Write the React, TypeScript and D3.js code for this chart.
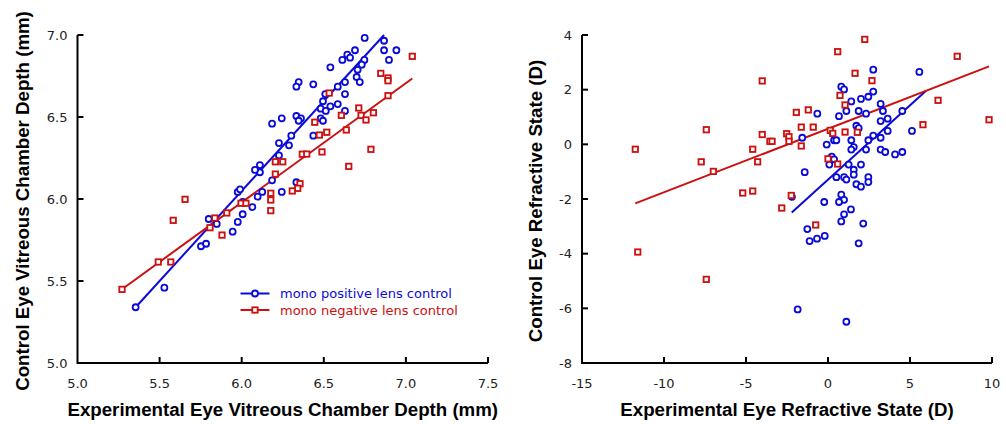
import React from "react";
import * as d3 from "d3";

// ---- Left panel: vitreous chamber depth (mm) ----
const vcdPosX = [6.749,6.867,6.867,6.942,6.897,6.690,6.643,6.660,6.613,6.747,6.731,6.706,6.540,6.700,6.719,6.629,6.585,6.347,6.333,6.436,6.509,6.629,6.495,6.481,6.512,6.540,6.585,6.629,6.333,6.361,6.347,6.244,6.185,6.481,6.495,6.302,6.436,6.227,6.288,6.227,6.111,6.111,6.081,6.185,6.333,6.125,6.244,5.976,5.990,6.097,5.354,5.529,5.752,5.783,5.799,5.848,5.945,5.976,6.006,6.006,6.065];
const vcdPosY = [6.982,6.965,6.907,6.907,6.848,6.907,6.880,6.862,6.848,6.848,6.819,6.788,6.803,6.744,6.713,6.713,6.685,6.713,6.685,6.699,6.640,6.640,6.596,6.551,6.537,6.565,6.579,6.537,6.506,6.492,6.477,6.492,6.459,6.492,6.477,6.386,6.386,6.341,6.327,6.266,6.207,6.163,6.177,6.114,6.102,6.043,6.043,6.043,6.059,6.014,5.340,5.459,5.712,5.727,5.878,5.848,5.801,5.860,5.907,5.982,5.951];
const vcdNegX = [7.039,6.847,6.891,6.891,6.891,6.533,6.713,6.607,6.727,6.757,6.802,6.445,6.637,6.518,6.473,6.369,6.489,6.787,6.652,6.205,6.250,6.205,6.355,6.341,6.308,6.177,6.177,6.177,5.655,5.271,5.492,5.568,5.583,5.807,5.836,5.880,5.909,5.996,6.026,6.396];
const vcdNegY = [6.870,6.766,6.738,6.721,6.630,6.646,6.555,6.510,6.510,6.482,6.526,6.468,6.421,6.407,6.390,6.273,6.287,6.303,6.199,6.227,6.227,6.152,6.093,6.065,6.049,6.035,5.994,5.929,5.998,5.449,5.616,5.616,5.870,5.825,5.884,5.780,5.915,5.974,5.974,6.274];
const vcdPosFit = [[5.354, 5.34], [6.867, 7.0]];
const vcdNegFit = [[5.271, 5.45], [7.039, 6.735]];
const vcdXTicks = [5.0, 5.5, 6.0, 6.5, 7.0, 7.5];
const vcdYTicks = [5.0, 5.5, 6.0, 6.5, 7.0];

// ---- Right panel: refractive state (D) ----
const rsPosX = [2.76,5.57,0.81,0.98,1.42,2.01,2.46,2.76,3.21,3.35,1.87,2.32,1.12,0.67,-0.65,3.64,3.21,4.53,3.64,5.12,1.73,1.87,2.76,3.21,2.46,1.42,-1.57,0.37,0.51,-0.08,1.57,1.42,2.32,3.21,3.49,4.09,4.53,0.23,0.37,0.08,1.26,1.57,1.57,2.01,0.51,0.98,1.12,2.46,2.46,1.73,2.01,-1.42,-2.20,-0.23,0.81,0.98,0.67,1.40,0.98,0.81,2.15,-1.26,-1.12,-0.67,-0.20,1.87,-1.85,1.12];
const rsPosY = [2.73,2.65,2.11,2.01,1.57,1.66,1.74,1.93,1.48,1.22,1.22,1.12,1.22,1.03,1.12,0.94,0.85,1.22,0.49,0.49,0.68,0.59,0.32,0.24,0.15,0.15,0.24,0.15,0.15,-0.01,-0.10,-0.19,-0.19,-0.19,-0.28,-0.37,-0.28,-0.45,-0.55,-0.74,-0.74,-0.93,-1.11,-0.74,-1.20,-1.20,-1.29,-1.20,-1.38,-1.46,-1.55,-1.02,-1.92,-2.11,-1.84,-2.03,-2.11,-2.38,-2.56,-2.82,-2.90,-3.10,-3.54,-3.45,-3.35,-3.62,-6.04,-6.49];
const rsNegX = [-11.75,-7.42,-7.73,-6.99,-4.01,-4.01,-4.59,-4.29,-5.20,-4.59,-3.54,-11.60,-7.42,2.24,0.59,1.65,2.68,0.73,1.04,7.88,6.71,9.82,5.79,-1.93,-1.20,-1.63,-0.90,-3.41,-2.52,-2.38,-2.38,-1.63,0.14,0.29,1.04,1.79,0.00,0.59,-2.24,-2.82,-0.75];
const rsNegY = [-0.18,0.535,-0.64,-0.99,2.32,0.36,-0.18,-0.64,-1.78,-1.71,0.11,-3.94,-4.94,3.84,3.39,2.60,2.33,1.79,1.44,3.22,1.61,0.90,0.72,1.17,1.26,0.63,0.63,0.11,0.39,0.28,0.11,-0.06,0.51,0.40,0.45,0.44,-0.53,-0.72,-1.87,-2.33,-2.95];
const rsPosFit = [[-2.21, -2.49], [5.98, 1.96]];
const rsNegFit = [[-11.75, -2.16], [9.82, 2.85]];
const rsXTicks = [-15, -10, -5, 0, 5, 10];
const rsYTicks = [-8, -6, -4, -2, 0, 2, 4];

const legendLabels = ["mono positive lens control", "mono negative lens control"];

const BLUE = "#0a0ad8";
const RED = "#cc0f0f";
const TICK_FONT = "DejaVu Sans, Verdana, sans-serif";
const TITLE_FONT = "Liberation Sans, Arial, sans-serif";

type Sc = d3.ScaleLinear<number, number>;

function Circle({ x, y }: { x: number; y: number }) {
  return <circle cx={x} cy={y} r={3} fill="white" stroke={BLUE} strokeWidth={1.8} />;
}
function Square({ x, y }: { x: number; y: number }) {
  return <rect x={x - 2.7} y={y - 2.7} width={5.4} height={5.4} fill="white" stroke={RED} strokeWidth={1.8} />;
}

function Panel({
  xs, ys, xTicks, yTicks, fmt, posX, posY, negX, negY, posFit, negFit, xTitle, yTitle, yTitleX,
}: {
  xs: Sc; ys: Sc; xTicks: number[]; yTicks: number[]; fmt: (v: number) => string;
  posX: number[]; posY: number[]; negX: number[]; negY: number[];
  posFit: number[][]; negFit: number[][]; xTitle: string; yTitle: string; yTitleX: number;
}) {
  const [x0, x1] = xs.range();
  const [y0, y1] = ys.range(); // y0 bottom
  const line = d3.line<number[]>().x((d) => xs(d[0])).y((d) => ys(d[1]));
  const cy = (y0 + y1) / 2 + 2;
  return (
    <g>
      <path d={line(posFit) || ""} stroke={BLUE} strokeWidth={2} fill="none" />
      <path d={line(negFit) || ""} stroke={RED} strokeWidth={2} fill="none" />
      {posX.map((v, i) => <Circle key={"p" + i} x={xs(v)} y={ys(posY[i])} />)}
      {negX.map((v, i) => <Square key={"n" + i} x={xs(v)} y={ys(negY[i])} />)}
      <path d={`M${x0},${y1}V${y0}H${x1}`} stroke="black" strokeWidth={2} fill="none" />
      {yTicks.map((t) => (
        <g key={"yt" + t}>
          <line x1={x0} x2={x0 + 6} y1={ys(t)} y2={ys(t)} stroke="black" strokeWidth={2} />
          <text x={x0 - 10} y={ys(t)} dy="0.36em" textAnchor="end" fontFamily={TICK_FONT} fontSize={13} fill="#222">{fmt(t)}</text>
        </g>
      ))}
      {xTicks.map((t) => (
        <g key={"xt" + t}>
          {xs(t) > x0 + 1 && <line x1={xs(t)} x2={xs(t)} y1={y0} y2={y0 - 6} stroke="black" strokeWidth={2} />}
          <text x={xs(t)} y={y0 + 25} textAnchor="middle" fontFamily={TICK_FONT} fontSize={13} fill="#222">{fmt(t)}</text>
        </g>
      ))}
      <text x={(x0 + x1) / 2} y={416} textAnchor="middle" fontFamily={TITLE_FONT} fontWeight="bold" fontSize={18.7}>{xTitle}</text>
      <text transform={`translate(${yTitleX},${cy}) rotate(-90)`} textAnchor="middle" fontFamily={TITLE_FONT} fontWeight="bold" fontSize={18.7}>{yTitle}</text>
    </g>
  );
}

export default function App() {
  const xL = d3.scaleLinear().domain([5, 7.5]).range([77.5, 488]);
  const yL = d3.scaleLinear().domain([5, 7]).range([363, 35]);
  const xR = d3.scaleLinear().domain([-15, 10]).range([582, 992]);
  const yR = d3.scaleLinear().domain([-8, 4]).range([363, 35]);
  return (
    <svg width={1006} height={424} style={{ position: "absolute", left: 0, top: 0, background: "white" }}>
      <Panel xs={xL} ys={yL} xTicks={vcdXTicks} yTicks={vcdYTicks} fmt={d3.format(".1f")}
        posX={vcdPosX} posY={vcdPosY} negX={vcdNegX} negY={vcdNegY}
        posFit={vcdPosFit} negFit={vcdNegFit}
        xTitle="Experimental Eye Vitreous Chamber Depth (mm)" yTitle="Control Eye Vitreous Chamber Depth (mm)" yTitleX={29} />
      <Panel xs={xR} ys={yR} xTicks={rsXTicks} yTicks={rsYTicks} fmt={(v) => String(v)}
        posX={rsPosX} posY={rsPosY} negX={rsNegX} negY={rsNegY}
        posFit={rsPosFit} negFit={rsNegFit}
        xTitle="Experimental Eye Refractive State (D)" yTitle="Control Eye Refractive State (D)" yTitleX={542} />
      <g>
        <line x1={240.5} x2={269.5} y1={293.5} y2={293.5} stroke={BLUE} strokeWidth={2} />
        <Circle x={255} y={293.5} />
        <text x={280} y={293.5} dy="0.36em" fontFamily={TICK_FONT} fontSize={13} fill={BLUE}>{legendLabels[0]}</text>
        <line x1={240.5} x2={269.5} y1={310} y2={310} stroke={RED} strokeWidth={2} />
        <Square x={255} y={310} />
        <text x={280} y={310} dy="0.36em" fontFamily={TICK_FONT} fontSize={13} fill={RED}>{legendLabels[1]}</text>
      </g>
    </svg>
  );
}
